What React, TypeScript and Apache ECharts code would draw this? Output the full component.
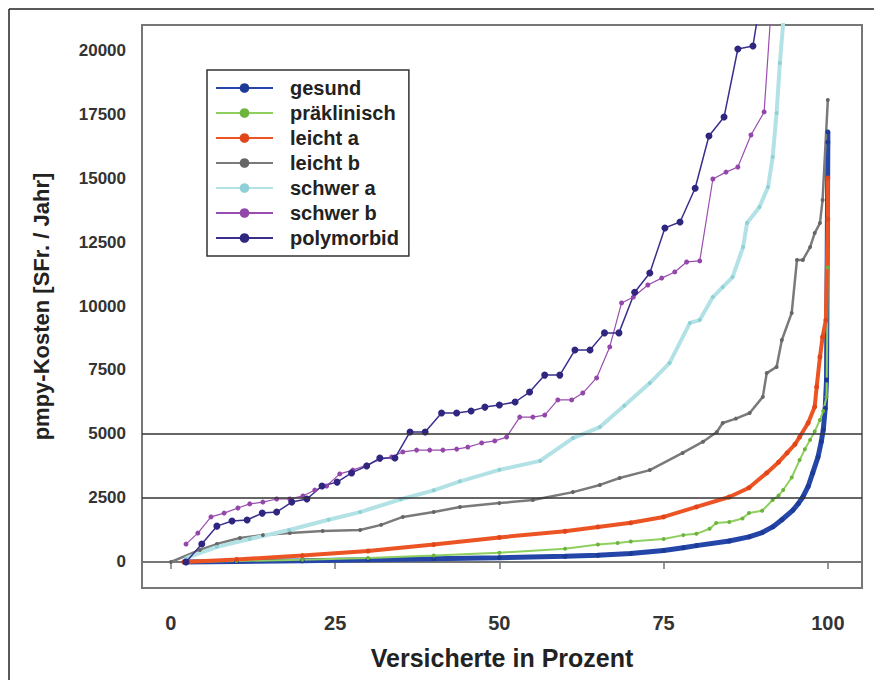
import React, { useEffect, useRef } from "react";
import * as echarts from "echarts";

const seriesNames = ["gesund", "präklinisch", "leicht a", "leicht b", "schwer a", "schwer b", "polymorbid"];
const xTicks = [0, 25, 50, 75, 100];
const yTicks = [0, 2500, 5000, 7500, 10000, 12500, 15000, 17500, 20000];
const thresholds = [2500, 5000];

const gesundX = [2, 10, 20, 30, 40, 50, 60, 65, 70, 75, 78, 80, 85, 88, 90, 91.6, 93, 94.7, 95.5, 96.2, 97, 97.7, 98.5, 99, 99.3, 99.6, 99.8, 100, 100];
const gesundY = [0, 20, 50, 90, 130, 170, 220, 260, 330, 450, 560, 640, 820, 980, 1150, 1370, 1650, 2030, 2280, 2540, 2950, 3480, 4100, 4700, 5160, 6000, 7110, 16400, 16800];

const praeX = [2, 10, 20, 30, 40, 50, 60, 65, 68, 70, 75, 78, 80, 82, 83, 85, 87, 88, 90, 91.6, 92.5, 93.2, 94.5, 95.7, 96.5, 97.3, 98, 98.8, 99.3, 99.8, 100];
const praeY = [0, 40, 90, 160, 250, 360, 520, 680, 740, 800, 900, 1050, 1100, 1300, 1520, 1560, 1700, 1910, 2000, 2420, 2600, 2810, 3300, 3980, 4400, 4770, 5100, 5550, 5900, 6450, 11500];

const leichtAX = [2, 10, 20, 30, 40, 50, 60, 65, 70, 75, 80, 85, 88, 90.7, 92.5, 93.8, 95, 95.7, 97, 98, 98.3, 98.8, 99.2, 99.7, 100, 100];
const leichtAY = [0, 100, 250, 430, 680, 960, 1200, 1370, 1530, 1760, 2150, 2540, 2900, 3480, 3900, 4260, 4600, 4880, 5430, 6060, 6840, 8010, 8790, 9450, 13400, 15000];

const leichtBX = [0, 4.4, 7, 10.5, 14, 18.1, 23.1, 28.8, 32, 35.3, 40, 44, 50, 55.1, 61.2, 65.3, 68.3, 72.9, 77.9, 81, 83.1, 84, 86, 88.1, 90.1, 90.7, 92.2, 93, 94.5, 95.3, 96.2, 97.3, 98, 98.8, 99.2, 100];
const leichtBY = [0, 470, 700, 940, 1050, 1130, 1210, 1250, 1450, 1760, 1950, 2150, 2300, 2420, 2730, 3010, 3280, 3590, 4260, 4700, 5080, 5430, 5600, 5820, 6450, 7380, 7620, 8670, 9730, 11800, 11800, 12300, 12850, 13240, 14140, 18050];

const schwerAX = [2.3, 7, 12, 18, 24, 28.8, 35, 40, 44, 50, 56.2, 61.2, 65.3, 69, 72.9, 75.9, 79, 80.5, 82.5, 84, 85.5, 87.1, 87.7, 89.6, 90.9, 91.6, 92.2, 92.7, 93.5];
const schwerAY = [150, 590, 900, 1250, 1650, 1950, 2450, 2800, 3150, 3600, 3950, 4840, 5270, 6100, 6990, 7770, 9340, 9450, 10350, 10740, 11130, 12300, 13240, 13870, 14650, 15820, 17540, 19490, 22000];

const schwerBX = [2.3, 4.1, 6.1, 8.1, 10.2, 12, 14, 16.1, 18.1, 20.1, 21.9, 23.7, 25.7, 27.7, 29.8, 31.8, 33.6, 35.3, 37.4, 39.4, 41.4, 43.5, 45.2, 47.3, 49.3, 51.1, 53.1, 55.1, 56.9, 58.9, 61, 62.7, 64.8, 66.8, 68.6, 70.4, 72.6, 74.7, 76.7, 78.5, 80.5, 82.5, 84.5, 86.3, 88.3, 90.3, 92];
const schwerBY = [700, 1130, 1760, 1910, 2110, 2270, 2340, 2460, 2460, 2580, 2810, 2970, 3440, 3590, 3790, 4000, 4100, 4300, 4370, 4370, 4370, 4410, 4490, 4650, 4730, 4880, 5660, 5660, 5740, 6330, 6330, 6600, 7190, 8400, 10120, 10350, 10820, 11090, 11330, 11720, 11760, 14960, 15230, 15430, 16680, 17580, 24000];

const polyX = [2.3, 4.7, 7, 9.3, 11.6, 13.9, 16.1, 18.4, 20.7, 23, 25.3, 27.5, 29.8, 31.8, 34.1, 36.4, 38.7, 41.2, 43.5, 45.7, 47.8, 50, 52.4, 54.6, 56.9, 59.2, 61.5, 63.8, 66, 68.2, 70.6, 72.9, 75.2, 77.5, 79.8, 81.9, 84.2, 86.3, 88.6, 91];
const polyY = [0, 700, 1400, 1600, 1640, 1910, 1950, 2340, 2460, 2970, 3120, 3480, 3750, 4060, 4060, 5080, 5080, 5820, 5820, 5900, 6050, 6130, 6250, 6640, 7300, 7300, 8280, 8280, 8950, 8950, 10540, 11290, 13050, 13280, 14600, 16640, 17380, 20040, 20160, 24000];

const zip = (xs: number[], ys: number[]) => xs.map((x, i) => [x, ys[i]]);

export default function App() {
  const ref = useRef<HTMLDivElement>(null);
  useEffect(() => {
    if (!ref.current) return;
    const chart = echarts.init(ref.current, null, { renderer: "svg" });
    const font = "Liberation Sans, Arial, sans-serif";
    const mk = (
      idx: number,
      xs: number[],
      ys: number[],
      lineColor: string,
      dotColor: string,
      width: number,
      size: number,
      extra: any = {}
    ) => ({
      name: seriesNames[idx],
      type: "line",
      data: zip(xs, ys),
      symbol: "circle",
      symbolSize: size,
      showSymbol: true,
      clip: true,
      lineStyle: { color: lineColor, width },
      itemStyle: { color: dotColor },
      emphasis: { disabled: true },
      ...extra,
    });
    chart.setOption({
      animation: false,
      backgroundColor: "#fff",
      grid: { left: 142, top: 25, right: 12, bottom: 92, show: true, borderColor: "#777", borderWidth: 2 },
      graphic: [
        { type: "line", shape: { x1: 9, y1: 9, x2: 874, y2: 9 }, style: { stroke: "#222", lineWidth: 1.5 } },
        { type: "line", shape: { x1: 9, y1: 9, x2: 9, y2: 680 }, style: { stroke: "#222", lineWidth: 1.5 } },
      ],
      legend: {
        orient: "vertical",
        left: 207,
        top: 70,
        itemWidth: 57,
        itemHeight: 12,
        itemGap: 5,
        padding: [8, 10, 8, 8],
        borderColor: "#333",
        borderWidth: 1.5,
        backgroundColor: "#fff",
        textStyle: { fontFamily: font, fontSize: 20, fontWeight: "bold", color: "#222", padding: [0, 0, 0, 12] },
        data: seriesNames,
      },
      xAxis: {
        type: "value",
        min: -4.4,
        max: 105.2,
        splitLine: { show: false },
        axisLine: { show: true, lineStyle: { color: "#777", width: 2 } },
        axisTick: { show: true, customValues: xTicks, length: 7, lineStyle: { color: "#777", width: 1.5 } },
        axisLabel: { customValues: xTicks, margin: 25, fontFamily: font, fontSize: 20, fontWeight: "bold", color: "#333" },
        name: "Versicherte in Prozent",
        nameLocation: "middle",
        nameGap: 57,
        nameTextStyle: { fontFamily: font, fontSize: 25, fontWeight: "bold", color: "#222" },
      },
      yAxis: {
        type: "value",
        min: -1016,
        max: 20977,
        splitLine: { show: false },
        axisLine: { show: false },
        axisTick: { show: false },
        axisLabel: {
          customValues: yTicks,
          formatter: (v: number) => String(v),
          margin: 16,
          fontFamily: font,
          fontSize: 17,
          fontWeight: "bold",
          color: "#333",
        },
        name: "pmpy-Kosten [SFr. / Jahr]",
        nameLocation: "middle",
        nameGap: 90,
        nameTextStyle: { fontFamily: font, fontSize: 22, fontWeight: "bold", color: "#222" },
      },
      series: [
        mk(0, gesundX, gesundY, "#2346a8", "#1d3a96", 5, 5, {
          markLine: {
            silent: true,
            symbol: "none",
            label: { show: false },
            lineStyle: { color: "#333", type: "solid", width: 1.5 },
            data: thresholds.map((v) => ({ yAxis: v })),
          },
        }),
        mk(1, praeX, praeY, "#8fcf5f", "#6cb43c", 2, 4),
        mk(2, leichtAX, leichtAY, "#ec5424", "#e0461a", 4, 5),
        mk(3, leichtBX, leichtBY, "#7a7a7a", "#666", 2.5, 4),
        mk(4, schwerAX, schwerAY, "#b3e2e6", "#8fd0d6", 4, 4),
        mk(5, schwerBX, schwerBY, "#9a4db0", "#9447aa", 1.2, 5),
        mk(6, polyX, polyY, "#3a2f8c", "#2f2680", 1.5, 7),
      ],
    });
    return () => chart.dispose();
  }, []);
  return (
    <div
      ref={ref}
      style={{ position: "absolute", left: 0, top: 0, width: 874, height: 680 }}
    />
  );
}
